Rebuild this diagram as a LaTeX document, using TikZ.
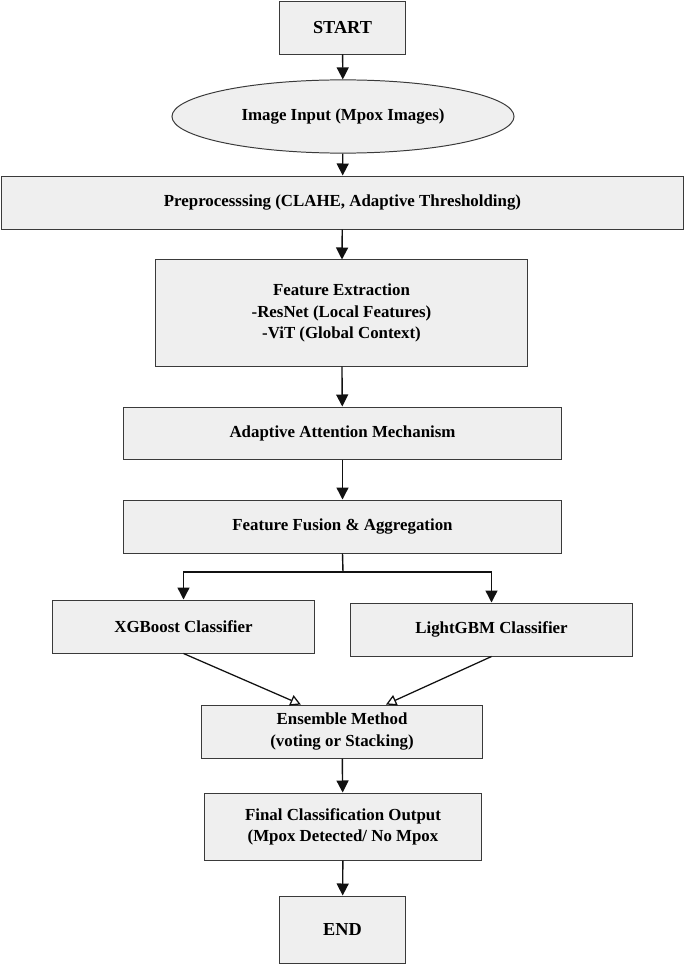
\documentclass[tikz,border=0pt]{standalone}
\usepackage{fontspec}
\setmainfont{Liberation Serif}
\usepackage{tikz}
\usetikzlibrary{arrows.meta,positioning,shapes.geometric}
\definecolor{boxfill}{HTML}{EFEFEF}
\definecolor{boxline}{HTML}{3A3A3A}
\definecolor{ink}{HTML}{111111}
\tikzset{
  block/.style={draw=boxline,line width=0.7pt,fill=boxfill,align=center,inner sep=2pt,
    font=\fontsize{12}{15}\selectfont\bfseries},
  term/.style={block,font=\fontsize{13}{15}\selectfont\bfseries},
  oval/.style={block,ellipse},
  arr/.style={-{Triangle[length=3mm,width=3mm]},line width=1pt,draw=ink},
  openarr/.style={-{Triangle[open,length=2.6mm,width=2.8mm,fill=white]},line width=0.9pt,draw=ink}
}

\begin{document}
\begin{tikzpicture}[x=0.025cm,y=-0.025cm]
 \useasboundingbox (0,0) rectangle (685,965);
 \node[term,minimum width=3.125cm,minimum height=1.3cm] (start) at (342.5,28) {START};
 \node[oval,minimum width=8.55cm,minimum height=1.83cm] (input) at (343,116.5) {Image Input (Mpox Images)};
 \node[block,minimum width=17.025cm,minimum height=1.325cm] (prep) at (342.5,202.5) {Preprocesssing (CLAHE, Adaptive Thresholding)};
 \node[block,minimum width=9.275cm,minimum height=2.65cm] (feat) at (341.5,313) {Feature Extraction\\-ResNet (Local Features)\\-ViT (Global Context)};
 \node[block,minimum width=10.925cm,minimum height=1.3cm] (attn) at (342.5,433) {Adaptive Attention Mechanism};
 \node[block,minimum width=10.925cm,minimum height=1.325cm] (fusion) at (342.5,526.5) {Feature Fusion \& Aggregation};
 \node[block,minimum width=6.525cm,minimum height=1.325cm] (xgb) at (183.5,626.5) {XGBoost Classifier};
 \node[block,minimum width=7.025cm,minimum height=1.325cm] (lgbm) at (491.5,629.5) {LightGBM Classifier};
 \node[block,minimum width=7cm,minimum height=1.325cm] (ens) at (342,731.5) {Ensemble Method\\(voting or Stacking)};
 \node[block,minimum width=6.9cm,minimum height=1.675cm] (final) at (343,826.5) {Final Classification Output\\(Mpox Detected/ No Mpox};
 \node[term,minimum width=3.125cm,minimum height=1.675cm] (end) at (342.5,929.5) {END};
 \coordinate (split) at (343,572);
 % main flow
 \draw[arr] (start)--(input); \draw[arr] (input)--(prep); \draw[arr] (prep)--(feat);
 \draw[arr] (feat)--(attn); \draw[arr] (attn)--(fusion);
 \draw[line width=1pt,draw=ink] (fusion.south)--(split);
 \draw[arr] (split)-|(xgb.north); \draw[arr] (split)-|(lgbm.north);
 \draw[openarr] (xgb.south)--([xshift=-1.03cm]ens.north);
 \draw[openarr] (lgbm.south)--([xshift=1.1cm]ens.north);
 \draw[arr] (ens)--(final); \draw[arr] (final)--(end);
\end{tikzpicture}
\end{document}
